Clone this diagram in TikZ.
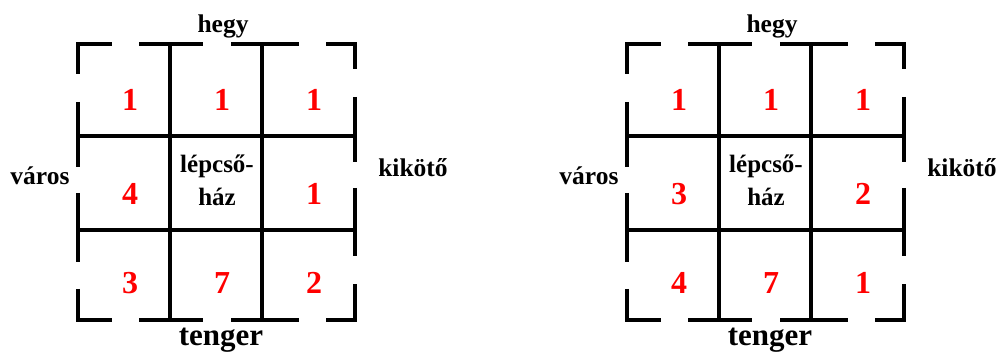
\documentclass[tikz,border=0pt]{standalone}
\usepackage{fontspec}
\setmainfont{Liberation Serif}
\begin{document}
\begin{tikzpicture}[x=1pt,y=-1pt,
  wall/.style={line width=4pt,line cap=butt,line join=miter},
  lbl/.style={font=\bfseries\fontsize{25.5}{28}\selectfont,inner sep=0pt,anchor=base},
  big/.style={font=\bfseries\fontsize{31}{34}\selectfont,inner sep=0pt,anchor=base},
  num/.style={font=\bfseries\fontsize{32}{34}\selectfont,text=red,inner sep=0pt,anchor=center},
  stair/.style={font=\bfseries\fontsize{25}{28}\selectfont,inner sep=0pt,anchor=base}]
\useasboundingbox (0,0) rectangle (1000,352);
\foreach \dx/\side in {0/L,549/R}{
\begin{scope}[xshift=\dx pt]
  % inner walls
  \draw[wall] (170,43) -- (170,320);
  \draw[wall] (262,43) -- (262,320);
  \draw[wall] (78,136) -- (355,136);
  \draw[wall] (78,230) -- (355,230);
  % outer top
  \draw[wall] (78,74) -- (78,44) -- (112,44);
  \draw[wall] (139,44) -- (203,44);
  \draw[wall] (231,44) -- (299,44);
  \draw[wall] (326,44) -- (355,44) -- (355,69);
  % outer bottom
  \draw[wall] (78,289) -- (78,320) -- (112,320);
  \draw[wall] (139,320) -- (203,320);
  \draw[wall] (231,320) -- (299,320);
  \draw[wall] (326,320) -- (355,320) -- (355,284);
  % left and right
  \draw[wall] (78,102) -- (78,167);
  \draw[wall] (78,193) -- (78,262);
  \draw[wall] (355,97) -- (355,162);
  \draw[wall] (355,188) -- (355,256);
  % labels
  \node[lbl] (hegy\side) at (223,33) {hegy};
  \node[big] (tenger\side) at (221,345) {tenger};
  \node[lbl] (varos\side) at (40,185) {város};
  \node[lbl] (kikoto\side) at (413,177) {kikötő};
  \node[stair] (lepcso\side) at (217,173) {lépcső-};
  \node[stair] (haz\side) at (217,206) {ház};
\end{scope}
}
% numbers left
\node[num] (a1) at (130,100) {1};
\node[num] (a2) at (222,100) {1};
\node[num] (a3) at (314,100) {1};
\node[num] (a4) at (130,194) {4};
\node[num] (a6) at (314,194) {1};
\node[num] (a7) at (130,283) {3};
\node[num] (a8) at (222,283) {7};
\node[num] (a9) at (314,283) {2};
% numbers right
\node[num] (b1) at (679,100) {1};
\node[num] (b2) at (771,100) {1};
\node[num] (b3) at (863,100) {1};
\node[num] (b4) at (679,194) {3};
\node[num] (b6) at (863,194) {2};
\node[num] (b7) at (679,283) {4};
\node[num] (b8) at (771,283) {7};
\node[num] (b9) at (863,283) {1};
\end{tikzpicture}
\end{document}
